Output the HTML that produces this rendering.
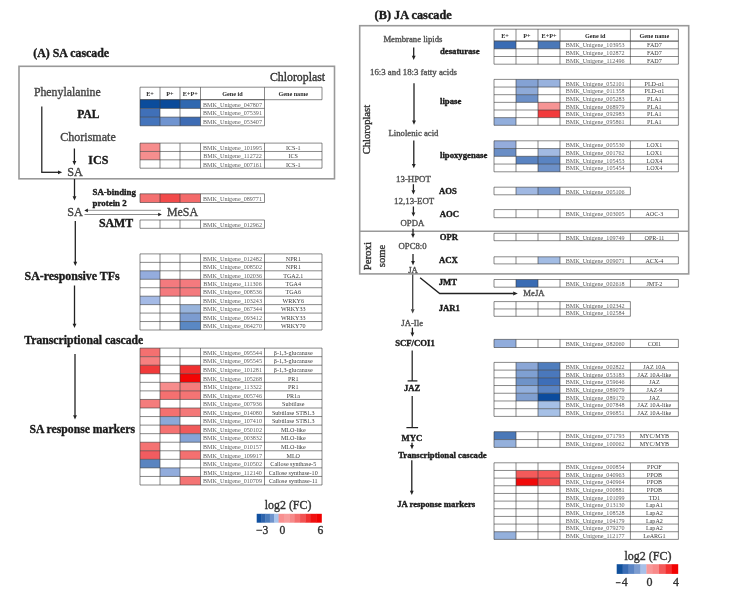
<!DOCTYPE html>
<html><head><meta charset="utf-8"><style>
html,body{margin:0;padding:0;background:#fff;}
body{width:741px;height:599px;overflow:hidden;}
svg{display:block;font-family:"Liberation Serif",serif;filter:blur(0.45px);}
</style></head><body>
<svg width="741" height="599" viewBox="0 0 741 599">
<rect x="0" y="0" width="741" height="599" fill="#fff"/>
<text x="33.20" y="57.40" font-size="11.9" font-weight="bold" fill="#1a1a1a" stroke="#1a1a1a" stroke-width="0.35" text-anchor="start">(A) SA cascade</text>
<rect x="19.00" y="66.30" width="315.50" height="112.50" fill="none" stroke="#999" stroke-width="1.6"/>
<text x="270.00" y="80.60" font-size="11.8" fill="#333" stroke="#333" stroke-width="0.35" text-anchor="start">Chloroplast</text>
<text x="150.00" y="96.02" font-size="6.2" font-weight="bold" fill="#2a2a2a" text-anchor="middle">E+</text>
<text x="170.00" y="96.02" font-size="6.2" font-weight="bold" fill="#2a2a2a" text-anchor="middle">P+</text>
<text x="190.25" y="96.02" font-size="6.2" font-weight="bold" fill="#2a2a2a" text-anchor="middle">E+P+</text>
<text x="232.50" y="96.02" font-size="6.2" font-weight="bold" fill="#2a2a2a" text-anchor="middle">Gene id</text>
<text x="293.25" y="96.02" font-size="6.2" font-weight="bold" fill="#2a2a2a" text-anchor="middle">Gene name</text>
<line x1="140.00" y1="87.20" x2="322.00" y2="87.20" stroke="#3a3a3a" stroke-width="0.6"/>
<line x1="140.00" y1="99.70" x2="322.00" y2="99.70" stroke="#3a3a3a" stroke-width="0.6"/>
<line x1="140.00" y1="87.20" x2="140.00" y2="99.70" stroke="#3a3a3a" stroke-width="0.6"/>
<line x1="160.00" y1="87.20" x2="160.00" y2="99.70" stroke="#3a3a3a" stroke-width="0.6"/>
<line x1="180.00" y1="87.20" x2="180.00" y2="99.70" stroke="#3a3a3a" stroke-width="0.6"/>
<line x1="200.50" y1="87.20" x2="200.50" y2="99.70" stroke="#3a3a3a" stroke-width="0.6"/>
<line x1="264.50" y1="87.20" x2="264.50" y2="99.70" stroke="#3a3a3a" stroke-width="0.6"/>
<line x1="322.00" y1="87.20" x2="322.00" y2="99.70" stroke="#3a3a3a" stroke-width="0.6"/>
<rect x="140.00" y="99.70" width="20.00" height="8.70" fill="#0a4c9c"/>
<rect x="160.00" y="99.70" width="20.00" height="8.70" fill="#0a4a9a"/>
<rect x="180.00" y="99.70" width="20.50" height="8.70" fill="#3068b0"/>
<text x="232.50" y="106.59" font-size="6.1" fill="#606060" text-anchor="middle">BMK_Unigene_047807</text>
<rect x="140.00" y="108.40" width="20.00" height="8.70" fill="#4070b8"/>
<text x="232.50" y="115.29" font-size="6.1" fill="#606060" text-anchor="middle">BMK_Unigene_075391</text>
<rect x="140.00" y="117.10" width="20.00" height="8.70" fill="#4474bc"/>
<rect x="160.00" y="117.10" width="20.00" height="8.70" fill="#7094d0"/>
<rect x="180.00" y="117.10" width="20.50" height="8.70" fill="#3e6cb4"/>
<text x="232.50" y="123.98" font-size="6.1" fill="#606060" text-anchor="middle">BMK_Unigene_053407</text>
<line x1="140.00" y1="99.70" x2="264.50" y2="99.70" stroke="#3a3a3a" stroke-width="0.6"/>
<line x1="140.00" y1="108.40" x2="264.50" y2="108.40" stroke="#3a3a3a" stroke-width="0.6"/>
<line x1="140.00" y1="117.10" x2="264.50" y2="117.10" stroke="#3a3a3a" stroke-width="0.6"/>
<line x1="140.00" y1="125.80" x2="264.50" y2="125.80" stroke="#3a3a3a" stroke-width="0.6"/>
<line x1="140.00" y1="99.70" x2="140.00" y2="125.80" stroke="#3a3a3a" stroke-width="0.6"/>
<line x1="160.00" y1="99.70" x2="160.00" y2="125.80" stroke="#3a3a3a" stroke-width="0.6"/>
<line x1="180.00" y1="99.70" x2="180.00" y2="125.80" stroke="#3a3a3a" stroke-width="0.6"/>
<line x1="200.50" y1="99.70" x2="200.50" y2="125.80" stroke="#3a3a3a" stroke-width="0.6"/>
<line x1="264.50" y1="99.70" x2="264.50" y2="125.80" stroke="#3a3a3a" stroke-width="0.6"/>
<rect x="140.00" y="143.10" width="20.00" height="8.37" fill="#f68c8c"/>
<text x="232.50" y="149.82" font-size="6.1" fill="#606060" text-anchor="middle">BMK_Unigene_101995</text>
<text x="293.25" y="149.82" font-size="6.1" fill="#3a3a3a" text-anchor="middle">ICS-1</text>
<rect x="140.00" y="151.47" width="20.00" height="8.37" fill="#f68e8e"/>
<text x="232.50" y="158.19" font-size="6.1" fill="#606060" text-anchor="middle">BMK_Unigene_112722</text>
<text x="293.25" y="158.19" font-size="6.1" fill="#3a3a3a" text-anchor="middle">ICS</text>
<text x="232.50" y="166.55" font-size="6.1" fill="#606060" text-anchor="middle">BMK_Unigene_007161</text>
<text x="293.25" y="166.55" font-size="6.1" fill="#3a3a3a" text-anchor="middle">ICS-1</text>
<line x1="140.00" y1="143.10" x2="322.00" y2="143.10" stroke="#3a3a3a" stroke-width="0.6"/>
<line x1="140.00" y1="151.47" x2="322.00" y2="151.47" stroke="#3a3a3a" stroke-width="0.6"/>
<line x1="140.00" y1="159.83" x2="322.00" y2="159.83" stroke="#3a3a3a" stroke-width="0.6"/>
<line x1="140.00" y1="168.20" x2="322.00" y2="168.20" stroke="#3a3a3a" stroke-width="0.6"/>
<line x1="140.00" y1="143.10" x2="140.00" y2="168.20" stroke="#3a3a3a" stroke-width="0.6"/>
<line x1="160.00" y1="143.10" x2="160.00" y2="168.20" stroke="#3a3a3a" stroke-width="0.6"/>
<line x1="180.00" y1="143.10" x2="180.00" y2="168.20" stroke="#3a3a3a" stroke-width="0.6"/>
<line x1="200.50" y1="143.10" x2="200.50" y2="168.20" stroke="#3a3a3a" stroke-width="0.6"/>
<line x1="264.50" y1="143.10" x2="264.50" y2="168.20" stroke="#3a3a3a" stroke-width="0.6"/>
<line x1="322.00" y1="143.10" x2="322.00" y2="168.20" stroke="#3a3a3a" stroke-width="0.6"/>
<rect x="140.00" y="193.80" width="20.00" height="8.70" fill="#f47070"/>
<rect x="160.00" y="193.80" width="20.00" height="8.70" fill="#f24a4a"/>
<rect x="180.00" y="193.80" width="20.50" height="8.70" fill="#f46a6a"/>
<text x="232.50" y="200.69" font-size="6.1" fill="#606060" text-anchor="middle">BMK_Unigene_089771</text>
<line x1="140.00" y1="193.80" x2="264.50" y2="193.80" stroke="#3a3a3a" stroke-width="0.6"/>
<line x1="140.00" y1="202.50" x2="264.50" y2="202.50" stroke="#3a3a3a" stroke-width="0.6"/>
<line x1="140.00" y1="193.80" x2="140.00" y2="202.50" stroke="#3a3a3a" stroke-width="0.6"/>
<line x1="160.00" y1="193.80" x2="160.00" y2="202.50" stroke="#3a3a3a" stroke-width="0.6"/>
<line x1="180.00" y1="193.80" x2="180.00" y2="202.50" stroke="#3a3a3a" stroke-width="0.6"/>
<line x1="200.50" y1="193.80" x2="200.50" y2="202.50" stroke="#3a3a3a" stroke-width="0.6"/>
<line x1="264.50" y1="193.80" x2="264.50" y2="202.50" stroke="#3a3a3a" stroke-width="0.6"/>
<text x="232.50" y="226.69" font-size="6.1" fill="#606060" text-anchor="middle">BMK_Unigene_012962</text>
<line x1="140.00" y1="220.00" x2="264.50" y2="220.00" stroke="#3a3a3a" stroke-width="0.6"/>
<line x1="140.00" y1="228.30" x2="264.50" y2="228.30" stroke="#3a3a3a" stroke-width="0.6"/>
<line x1="140.00" y1="220.00" x2="140.00" y2="228.30" stroke="#3a3a3a" stroke-width="0.6"/>
<line x1="160.00" y1="220.00" x2="160.00" y2="228.30" stroke="#3a3a3a" stroke-width="0.6"/>
<line x1="180.00" y1="220.00" x2="180.00" y2="228.30" stroke="#3a3a3a" stroke-width="0.6"/>
<line x1="200.50" y1="220.00" x2="200.50" y2="228.30" stroke="#3a3a3a" stroke-width="0.6"/>
<line x1="264.50" y1="220.00" x2="264.50" y2="228.30" stroke="#3a3a3a" stroke-width="0.6"/>
<text x="232.50" y="260.66" font-size="6.1" fill="#606060" text-anchor="middle">BMK_Unigene_012482</text>
<text x="293.25" y="260.66" font-size="6.1" fill="#3a3a3a" text-anchor="middle">NPR1</text>
<text x="232.50" y="269.12" font-size="6.1" fill="#606060" text-anchor="middle">BMK_Unigene_008502</text>
<text x="293.25" y="269.12" font-size="6.1" fill="#3a3a3a" text-anchor="middle">NPR1</text>
<rect x="140.00" y="270.81" width="20.00" height="8.46" fill="#94acde"/>
<text x="232.50" y="277.57" font-size="6.1" fill="#606060" text-anchor="middle">BMK_Unigene_102036</text>
<text x="293.25" y="277.57" font-size="6.1" fill="#3a3a3a" text-anchor="middle">TGA2.1</text>
<rect x="160.00" y="279.27" width="20.00" height="8.46" fill="#f47a7e"/>
<rect x="180.00" y="279.27" width="20.50" height="8.46" fill="#f47a7e"/>
<text x="232.50" y="286.03" font-size="6.1" fill="#606060" text-anchor="middle">BMK_Unigene_111306</text>
<text x="293.25" y="286.03" font-size="6.1" fill="#3a3a3a" text-anchor="middle">TGA4</text>
<rect x="160.00" y="287.72" width="20.00" height="8.46" fill="#f47a7e"/>
<rect x="180.00" y="287.72" width="20.50" height="8.46" fill="#f47a7e"/>
<text x="232.50" y="294.48" font-size="6.1" fill="#606060" text-anchor="middle">BMK_Unigene_008536</text>
<text x="293.25" y="294.48" font-size="6.1" fill="#3a3a3a" text-anchor="middle">TGA6</text>
<rect x="140.00" y="296.18" width="20.00" height="8.46" fill="#a4bae6"/>
<text x="232.50" y="302.94" font-size="6.1" fill="#606060" text-anchor="middle">BMK_Unigene_103243</text>
<text x="293.25" y="302.94" font-size="6.1" fill="#3a3a3a" text-anchor="middle">WRKY6</text>
<rect x="180.00" y="304.63" width="20.50" height="8.46" fill="#98b4dc"/>
<text x="232.50" y="311.40" font-size="6.1" fill="#606060" text-anchor="middle">BMK_Unigene_067344</text>
<text x="293.25" y="311.40" font-size="6.1" fill="#3a3a3a" text-anchor="middle">WRKY33</text>
<rect x="180.00" y="313.09" width="20.50" height="8.46" fill="#7c9cd0"/>
<text x="232.50" y="319.85" font-size="6.1" fill="#606060" text-anchor="middle">BMK_Unigene_093412</text>
<text x="293.25" y="319.85" font-size="6.1" fill="#3a3a3a" text-anchor="middle">WRKY33</text>
<rect x="180.00" y="321.54" width="20.50" height="8.46" fill="#5a88c4"/>
<text x="232.50" y="328.31" font-size="6.1" fill="#606060" text-anchor="middle">BMK_Unigene_064270</text>
<text x="293.25" y="328.31" font-size="6.1" fill="#3a3a3a" text-anchor="middle">WRKY70</text>
<line x1="140.00" y1="253.90" x2="322.00" y2="253.90" stroke="#3a3a3a" stroke-width="0.6"/>
<line x1="140.00" y1="262.36" x2="322.00" y2="262.36" stroke="#3a3a3a" stroke-width="0.6"/>
<line x1="140.00" y1="270.81" x2="322.00" y2="270.81" stroke="#3a3a3a" stroke-width="0.6"/>
<line x1="140.00" y1="279.27" x2="322.00" y2="279.27" stroke="#3a3a3a" stroke-width="0.6"/>
<line x1="140.00" y1="287.72" x2="322.00" y2="287.72" stroke="#3a3a3a" stroke-width="0.6"/>
<line x1="140.00" y1="296.18" x2="322.00" y2="296.18" stroke="#3a3a3a" stroke-width="0.6"/>
<line x1="140.00" y1="304.63" x2="322.00" y2="304.63" stroke="#3a3a3a" stroke-width="0.6"/>
<line x1="140.00" y1="313.09" x2="322.00" y2="313.09" stroke="#3a3a3a" stroke-width="0.6"/>
<line x1="140.00" y1="321.54" x2="322.00" y2="321.54" stroke="#3a3a3a" stroke-width="0.6"/>
<line x1="140.00" y1="330.00" x2="322.00" y2="330.00" stroke="#3a3a3a" stroke-width="0.6"/>
<line x1="140.00" y1="253.90" x2="140.00" y2="330.00" stroke="#3a3a3a" stroke-width="0.6"/>
<line x1="160.00" y1="253.90" x2="160.00" y2="330.00" stroke="#3a3a3a" stroke-width="0.6"/>
<line x1="180.00" y1="253.90" x2="180.00" y2="330.00" stroke="#3a3a3a" stroke-width="0.6"/>
<line x1="200.50" y1="253.90" x2="200.50" y2="330.00" stroke="#3a3a3a" stroke-width="0.6"/>
<line x1="264.50" y1="253.90" x2="264.50" y2="330.00" stroke="#3a3a3a" stroke-width="0.6"/>
<line x1="322.00" y1="253.90" x2="322.00" y2="330.00" stroke="#3a3a3a" stroke-width="0.6"/>
<rect x="140.00" y="348.10" width="20.00" height="8.56" fill="#f47070"/>
<text x="232.50" y="354.91" font-size="6.1" fill="#606060" text-anchor="middle">BMK_Unigene_095544</text>
<text x="293.25" y="354.91" font-size="6.1" fill="#3a3a3a" text-anchor="middle">β-1,3-glucanase</text>
<rect x="140.00" y="356.66" width="20.00" height="8.56" fill="#f68080"/>
<text x="232.50" y="363.47" font-size="6.1" fill="#606060" text-anchor="middle">BMK_Unigene_095545</text>
<text x="293.25" y="363.47" font-size="6.1" fill="#3a3a3a" text-anchor="middle">β-1,3-glucanase</text>
<rect x="140.00" y="365.21" width="20.00" height="8.56" fill="#f03a3a"/>
<rect x="180.00" y="365.21" width="20.50" height="8.56" fill="#f03030"/>
<text x="232.50" y="372.03" font-size="6.1" fill="#606060" text-anchor="middle">BMK_Unigene_101281</text>
<text x="293.25" y="372.03" font-size="6.1" fill="#3a3a3a" text-anchor="middle">β-1,3-glucanase</text>
<rect x="180.00" y="373.77" width="20.50" height="8.56" fill="#f40404"/>
<text x="232.50" y="380.58" font-size="6.1" fill="#606060" text-anchor="middle">BMK_Unigene_105268</text>
<text x="293.25" y="380.58" font-size="6.1" fill="#3a3a3a" text-anchor="middle">PR1</text>
<rect x="160.00" y="382.33" width="20.00" height="8.56" fill="#f68c8c"/>
<rect x="180.00" y="382.33" width="20.50" height="8.56" fill="#f47c7c"/>
<text x="232.50" y="389.14" font-size="6.1" fill="#606060" text-anchor="middle">BMK_Unigene_113322</text>
<text x="293.25" y="389.14" font-size="6.1" fill="#3a3a3a" text-anchor="middle">PR1</text>
<rect x="160.00" y="390.88" width="20.00" height="8.56" fill="#f47070"/>
<rect x="180.00" y="390.88" width="20.50" height="8.56" fill="#f47474"/>
<text x="232.50" y="397.69" font-size="6.1" fill="#606060" text-anchor="middle">BMK_Unigene_005746</text>
<text x="293.25" y="397.69" font-size="6.1" fill="#3a3a3a" text-anchor="middle">PR1a</text>
<rect x="140.00" y="399.44" width="20.00" height="8.56" fill="#f47c7c"/>
<text x="232.50" y="406.25" font-size="6.1" fill="#606060" text-anchor="middle">BMK_Unigene_007936</text>
<text x="293.25" y="406.25" font-size="6.1" fill="#3a3a3a" text-anchor="middle">Subtilase</text>
<rect x="160.00" y="407.99" width="20.00" height="8.56" fill="#f47070"/>
<rect x="180.00" y="407.99" width="20.50" height="8.56" fill="#f47878"/>
<text x="232.50" y="414.81" font-size="6.1" fill="#606060" text-anchor="middle">BMK_Unigene_014080</text>
<text x="293.25" y="414.81" font-size="6.1" fill="#3a3a3a" text-anchor="middle">Subtilase STB1.3</text>
<rect x="160.00" y="416.55" width="20.00" height="8.56" fill="#8ca8d8"/>
<text x="232.50" y="423.36" font-size="6.1" fill="#606060" text-anchor="middle">BMK_Unigene_107410</text>
<text x="293.25" y="423.36" font-size="6.1" fill="#3a3a3a" text-anchor="middle">Subtilase STB1.3</text>
<rect x="160.00" y="425.11" width="20.00" height="8.56" fill="#f47272"/>
<rect x="180.00" y="425.11" width="20.50" height="8.56" fill="#f05a5a"/>
<text x="232.50" y="431.92" font-size="6.1" fill="#606060" text-anchor="middle">BMK_Unigene_050102</text>
<text x="293.25" y="431.92" font-size="6.1" fill="#3a3a3a" text-anchor="middle">MLO-like</text>
<rect x="180.00" y="433.66" width="20.50" height="8.56" fill="#86a4d6"/>
<text x="232.50" y="440.48" font-size="6.1" fill="#606060" text-anchor="middle">BMK_Unigene_003832</text>
<text x="293.25" y="440.48" font-size="6.1" fill="#3a3a3a" text-anchor="middle">MLO-like</text>
<rect x="140.00" y="442.22" width="20.00" height="8.56" fill="#f47272"/>
<text x="232.50" y="449.03" font-size="6.1" fill="#606060" text-anchor="middle">BMK_Unigene_010157</text>
<text x="293.25" y="449.03" font-size="6.1" fill="#3a3a3a" text-anchor="middle">MLO-like</text>
<rect x="140.00" y="450.77" width="20.00" height="8.56" fill="#f25c60"/>
<rect x="180.00" y="450.77" width="20.50" height="8.56" fill="#f47070"/>
<text x="232.50" y="457.59" font-size="6.1" fill="#606060" text-anchor="middle">BMK_Unigene_109917</text>
<text x="293.25" y="457.59" font-size="6.1" fill="#3a3a3a" text-anchor="middle">MLO</text>
<rect x="140.00" y="459.33" width="20.00" height="8.56" fill="#5a84c0"/>
<text x="232.50" y="466.14" font-size="6.1" fill="#606060" text-anchor="middle">BMK_Unigene_010502</text>
<text x="293.25" y="466.14" font-size="6.1" fill="#3a3a3a" text-anchor="middle">Callose synthase-5</text>
<rect x="160.00" y="467.89" width="20.00" height="8.56" fill="#92acdc"/>
<text x="232.50" y="474.70" font-size="6.1" fill="#606060" text-anchor="middle">BMK_Unigene_112140</text>
<text x="293.25" y="474.70" font-size="6.1" fill="#3a3a3a" text-anchor="middle">Callose synthase-10</text>
<rect x="180.00" y="476.44" width="20.50" height="8.56" fill="#f47474"/>
<text x="232.50" y="483.26" font-size="6.1" fill="#606060" text-anchor="middle">BMK_Unigene_010709</text>
<text x="293.25" y="483.26" font-size="6.1" fill="#3a3a3a" text-anchor="middle">Callose synthase-11</text>
<line x1="140.00" y1="348.10" x2="322.00" y2="348.10" stroke="#3a3a3a" stroke-width="0.6"/>
<line x1="140.00" y1="356.66" x2="322.00" y2="356.66" stroke="#3a3a3a" stroke-width="0.6"/>
<line x1="140.00" y1="365.21" x2="322.00" y2="365.21" stroke="#3a3a3a" stroke-width="0.6"/>
<line x1="140.00" y1="373.77" x2="322.00" y2="373.77" stroke="#3a3a3a" stroke-width="0.6"/>
<line x1="140.00" y1="382.33" x2="322.00" y2="382.33" stroke="#3a3a3a" stroke-width="0.6"/>
<line x1="140.00" y1="390.88" x2="322.00" y2="390.88" stroke="#3a3a3a" stroke-width="0.6"/>
<line x1="140.00" y1="399.44" x2="322.00" y2="399.44" stroke="#3a3a3a" stroke-width="0.6"/>
<line x1="140.00" y1="407.99" x2="322.00" y2="407.99" stroke="#3a3a3a" stroke-width="0.6"/>
<line x1="140.00" y1="416.55" x2="322.00" y2="416.55" stroke="#3a3a3a" stroke-width="0.6"/>
<line x1="140.00" y1="425.11" x2="322.00" y2="425.11" stroke="#3a3a3a" stroke-width="0.6"/>
<line x1="140.00" y1="433.66" x2="322.00" y2="433.66" stroke="#3a3a3a" stroke-width="0.6"/>
<line x1="140.00" y1="442.22" x2="322.00" y2="442.22" stroke="#3a3a3a" stroke-width="0.6"/>
<line x1="140.00" y1="450.77" x2="322.00" y2="450.77" stroke="#3a3a3a" stroke-width="0.6"/>
<line x1="140.00" y1="459.33" x2="322.00" y2="459.33" stroke="#3a3a3a" stroke-width="0.6"/>
<line x1="140.00" y1="467.89" x2="322.00" y2="467.89" stroke="#3a3a3a" stroke-width="0.6"/>
<line x1="140.00" y1="476.44" x2="322.00" y2="476.44" stroke="#3a3a3a" stroke-width="0.6"/>
<line x1="140.00" y1="485.00" x2="322.00" y2="485.00" stroke="#3a3a3a" stroke-width="0.6"/>
<line x1="140.00" y1="348.10" x2="140.00" y2="485.00" stroke="#3a3a3a" stroke-width="0.6"/>
<line x1="160.00" y1="348.10" x2="160.00" y2="485.00" stroke="#3a3a3a" stroke-width="0.6"/>
<line x1="180.00" y1="348.10" x2="180.00" y2="485.00" stroke="#3a3a3a" stroke-width="0.6"/>
<line x1="200.50" y1="348.10" x2="200.50" y2="485.00" stroke="#3a3a3a" stroke-width="0.6"/>
<line x1="264.50" y1="348.10" x2="264.50" y2="485.00" stroke="#3a3a3a" stroke-width="0.6"/>
<line x1="322.00" y1="348.10" x2="322.00" y2="485.00" stroke="#3a3a3a" stroke-width="0.6"/>
<text x="33.90" y="95.90" font-size="11.8" fill="#454545" stroke="#454545" stroke-width="0.35" text-anchor="start">Phenylalanine</text>
<text x="77.30" y="117.50" font-size="11.5" font-weight="bold" fill="#1a1a1a" stroke="#1a1a1a" stroke-width="0.35" text-anchor="start">PAL</text>
<text x="60.20" y="140.60" font-size="12.05" fill="#454545" stroke="#454545" stroke-width="0.35" text-anchor="start">Chorismate</text>
<text x="88.30" y="163.90" font-size="12" font-weight="bold" fill="#1a1a1a" stroke="#1a1a1a" stroke-width="0.35" text-anchor="start">ICS</text>
<text x="67.30" y="175.90" font-size="12.2" fill="#454545" stroke="#454545" stroke-width="0.35" text-anchor="start">SA</text>
<line x1="41.80" y1="106.50" x2="41.80" y2="172.30" stroke="#222" stroke-width="1.25"/>
<line x1="41.20" y1="172.30" x2="58.50" y2="172.30" stroke="#222" stroke-width="1.3"/>
<path d="M58.00,170.40 L58.00,174.20 L62.20,172.30 Z" fill="#222"/>
<line x1="74.40" y1="148.50" x2="74.40" y2="161.50" stroke="#222" stroke-width="1.3"/>
<path d="M72.50,161.00 L76.30,161.00 L74.40,165.20 Z" fill="#222"/>
<line x1="74.50" y1="179.00" x2="74.50" y2="196.80" stroke="#222" stroke-width="1.3"/>
<path d="M72.60,196.30 L76.40,196.30 L74.50,200.50 Z" fill="#222"/>
<text x="92.50" y="195.40" font-size="8.9" font-weight="bold" fill="#1a1a1a" stroke="#1a1a1a" stroke-width="0.35" text-anchor="start">SA-binding</text>
<text x="92.60" y="206.00" font-size="8.9" font-weight="bold" fill="#1a1a1a" stroke="#1a1a1a" stroke-width="0.35" text-anchor="start">protein 2</text>
<text x="67.30" y="216.20" font-size="12.2" fill="#454545" stroke="#454545" stroke-width="0.35" text-anchor="start">SA</text>
<line x1="161.00" y1="210.40" x2="87.40" y2="210.40" stroke="#aaa" stroke-width="1.1"/>
<path d="M87.90,208.60 L87.90,212.20 L84.30,210.40 Z" fill="#222"/>
<line x1="84.50" y1="214.50" x2="158.70" y2="214.50" stroke="#8a8a8a" stroke-width="1.1"/>
<path d="M158.20,212.70 L158.20,216.30 L161.80,214.50 Z" fill="#222"/>
<text x="167.00" y="216.30" font-size="11.9" fill="#454545" stroke="#454545" stroke-width="0.35" text-anchor="start">MeSA</text>
<text x="98.90" y="227.30" font-size="11.9" font-weight="bold" fill="#1a1a1a" stroke="#1a1a1a" stroke-width="0.35" text-anchor="start">SAMT</text>
<line x1="75.30" y1="221.00" x2="75.30" y2="262.30" stroke="#222" stroke-width="1.3"/>
<path d="M73.40,261.80 L77.20,261.80 L75.30,266.00 Z" fill="#222"/>
<text x="24.60" y="279.70" font-size="11.9" font-weight="bold" fill="#1a1a1a" stroke="#1a1a1a" stroke-width="0.35" text-anchor="start">SA-responsive TFs</text>
<line x1="74.50" y1="285.50" x2="74.50" y2="324.30" stroke="#222" stroke-width="1.3"/>
<path d="M72.60,323.80 L76.40,323.80 L74.50,328.00 Z" fill="#222"/>
<text x="24.30" y="343.80" font-size="11.7" font-weight="bold" fill="#1a1a1a" stroke="#1a1a1a" stroke-width="0.35" text-anchor="start">Transcriptional cascade</text>
<line x1="75.00" y1="354.00" x2="75.00" y2="415.80" stroke="#222" stroke-width="1.3"/>
<path d="M73.10,415.30 L76.90,415.30 L75.00,419.50 Z" fill="#222"/>
<text x="29.40" y="432.90" font-size="11.7" font-weight="bold" fill="#1a1a1a" stroke="#1a1a1a" stroke-width="0.35" text-anchor="start">SA response markers</text>
<text x="264.80" y="509.30" font-size="11.9" fill="#333" stroke="#333" stroke-width="0.35" text-anchor="start">log2 (FC)</text>
<rect x="256.70" y="513.80" width="4.68" height="8.90" fill="#1050a0"/>
<rect x="261.08" y="513.80" width="4.68" height="8.90" fill="#2e64ac"/>
<rect x="265.46" y="513.80" width="4.68" height="8.90" fill="#4a7cbc"/>
<rect x="269.84" y="513.80" width="4.68" height="8.90" fill="#7094cc"/>
<rect x="274.22" y="513.80" width="4.68" height="8.90" fill="#a8c4ec"/>
<rect x="278.60" y="513.80" width="5.66" height="8.90" fill="#f89090"/>
<rect x="283.96" y="513.80" width="5.66" height="8.90" fill="#f89c9c"/>
<rect x="289.33" y="513.80" width="5.66" height="8.90" fill="#f68a8a"/>
<rect x="294.69" y="513.80" width="5.66" height="8.90" fill="#f47070"/>
<rect x="300.05" y="513.80" width="5.66" height="8.90" fill="#f25252"/>
<rect x="305.41" y="513.80" width="5.66" height="8.90" fill="#f03030"/>
<rect x="310.77" y="513.80" width="5.66" height="8.90" fill="#f01010"/>
<rect x="316.14" y="513.80" width="5.66" height="8.90" fill="#f00000"/>
<text x="256.00" y="533.60" font-size="11.6" fill="#333" stroke="#333" stroke-width="0.35" text-anchor="start">−3</text>
<text x="279.40" y="533.60" font-size="11.6" fill="#333" stroke="#333" stroke-width="0.35" text-anchor="start">0</text>
<text x="317.40" y="533.60" font-size="11.6" fill="#333" stroke="#333" stroke-width="0.35" text-anchor="start">6</text>
<text x="374.60" y="18.70" font-size="12.3" font-weight="bold" fill="#1a1a1a" stroke="#1a1a1a" stroke-width="0.35" text-anchor="start">(B) JA cascade</text>
<rect x="359.70" y="25.70" width="329.00" height="248.20" fill="none" stroke="#999" stroke-width="1.6"/>
<line x1="359.70" y1="231.20" x2="688.70" y2="231.20" stroke="#999" stroke-width="1.6"/>
<text x="505.00" y="37.72" font-size="6.2" font-weight="bold" fill="#2a2a2a" text-anchor="middle">E+</text>
<text x="527.00" y="37.72" font-size="6.2" font-weight="bold" fill="#2a2a2a" text-anchor="middle">P+</text>
<text x="549.00" y="37.72" font-size="6.2" font-weight="bold" fill="#2a2a2a" text-anchor="middle">E+P+</text>
<text x="595.20" y="37.72" font-size="6.2" font-weight="bold" fill="#2a2a2a" text-anchor="middle">Gene id</text>
<text x="654.40" y="37.72" font-size="6.2" font-weight="bold" fill="#2a2a2a" text-anchor="middle">Gene name</text>
<line x1="494.00" y1="29.20" x2="678.40" y2="29.20" stroke="#3a3a3a" stroke-width="0.6"/>
<line x1="494.00" y1="41.10" x2="678.40" y2="41.10" stroke="#3a3a3a" stroke-width="0.6"/>
<line x1="494.00" y1="29.20" x2="494.00" y2="41.10" stroke="#3a3a3a" stroke-width="0.6"/>
<line x1="516.00" y1="29.20" x2="516.00" y2="41.10" stroke="#3a3a3a" stroke-width="0.6"/>
<line x1="538.00" y1="29.20" x2="538.00" y2="41.10" stroke="#3a3a3a" stroke-width="0.6"/>
<line x1="560.00" y1="29.20" x2="560.00" y2="41.10" stroke="#3a3a3a" stroke-width="0.6"/>
<line x1="630.40" y1="29.20" x2="630.40" y2="41.10" stroke="#3a3a3a" stroke-width="0.6"/>
<line x1="678.40" y1="29.20" x2="678.40" y2="41.10" stroke="#3a3a3a" stroke-width="0.6"/>
<rect x="494.00" y="41.10" width="22.00" height="7.70" fill="#3a6cb4"/>
<rect x="538.00" y="41.10" width="22.00" height="7.70" fill="#4a78b8"/>
<text x="595.20" y="47.48" font-size="6.1" fill="#606060" text-anchor="middle">BMK_Unigene_103953</text>
<text x="654.40" y="47.48" font-size="6.1" fill="#3a3a3a" text-anchor="middle">FAD7</text>
<text x="595.20" y="55.19" font-size="6.1" fill="#606060" text-anchor="middle">BMK_Unigene_102872</text>
<text x="654.40" y="55.19" font-size="6.1" fill="#3a3a3a" text-anchor="middle">FAD7</text>
<text x="595.20" y="62.88" font-size="6.1" fill="#606060" text-anchor="middle">BMK_Unigene_112496</text>
<text x="654.40" y="62.88" font-size="6.1" fill="#3a3a3a" text-anchor="middle">FAD7</text>
<line x1="494.00" y1="41.10" x2="678.40" y2="41.10" stroke="#3a3a3a" stroke-width="0.6"/>
<line x1="494.00" y1="48.80" x2="678.40" y2="48.80" stroke="#3a3a3a" stroke-width="0.6"/>
<line x1="494.00" y1="56.50" x2="678.40" y2="56.50" stroke="#3a3a3a" stroke-width="0.6"/>
<line x1="494.00" y1="64.20" x2="678.40" y2="64.20" stroke="#3a3a3a" stroke-width="0.6"/>
<line x1="494.00" y1="41.10" x2="494.00" y2="64.20" stroke="#3a3a3a" stroke-width="0.6"/>
<line x1="516.00" y1="41.10" x2="516.00" y2="64.20" stroke="#3a3a3a" stroke-width="0.6"/>
<line x1="538.00" y1="41.10" x2="538.00" y2="64.20" stroke="#3a3a3a" stroke-width="0.6"/>
<line x1="560.00" y1="41.10" x2="560.00" y2="64.20" stroke="#3a3a3a" stroke-width="0.6"/>
<line x1="630.40" y1="41.10" x2="630.40" y2="64.20" stroke="#3a3a3a" stroke-width="0.6"/>
<line x1="678.40" y1="41.10" x2="678.40" y2="64.20" stroke="#3a3a3a" stroke-width="0.6"/>
<rect x="516.00" y="79.40" width="22.00" height="7.65" fill="#84a2d4"/>
<rect x="538.00" y="79.40" width="22.00" height="7.65" fill="#98b2de"/>
<text x="595.20" y="85.76" font-size="6.1" fill="#606060" text-anchor="middle">BMK_Unigene_052101</text>
<text x="654.40" y="85.76" font-size="6.1" fill="#3a3a3a" text-anchor="middle">PLD-α1</text>
<rect x="516.00" y="87.05" width="22.00" height="7.65" fill="#8eaad8"/>
<text x="595.20" y="93.41" font-size="6.1" fill="#606060" text-anchor="middle">BMK_Unigene_011358</text>
<text x="654.40" y="93.41" font-size="6.1" fill="#3a3a3a" text-anchor="middle">PLD-α1</text>
<rect x="516.00" y="94.70" width="22.00" height="7.65" fill="#6c90c8"/>
<text x="595.20" y="101.06" font-size="6.1" fill="#606060" text-anchor="middle">BMK_Unigene_005283</text>
<text x="654.40" y="101.06" font-size="6.1" fill="#3a3a3a" text-anchor="middle">PLA1</text>
<rect x="538.00" y="102.35" width="22.00" height="7.65" fill="#f69494"/>
<text x="595.20" y="108.71" font-size="6.1" fill="#606060" text-anchor="middle">BMK_Unigene_068979</text>
<text x="654.40" y="108.71" font-size="6.1" fill="#3a3a3a" text-anchor="middle">PLA1</text>
<rect x="538.00" y="110.00" width="22.00" height="7.65" fill="#f23a3c"/>
<text x="595.20" y="116.36" font-size="6.1" fill="#606060" text-anchor="middle">BMK_Unigene_092983</text>
<text x="654.40" y="116.36" font-size="6.1" fill="#3a3a3a" text-anchor="middle">PLA1</text>
<rect x="494.00" y="117.65" width="22.00" height="7.65" fill="#92aedc"/>
<text x="595.20" y="124.01" font-size="6.1" fill="#606060" text-anchor="middle">BMK_Unigene_095861</text>
<text x="654.40" y="124.01" font-size="6.1" fill="#3a3a3a" text-anchor="middle">PLA1</text>
<line x1="494.00" y1="79.40" x2="678.40" y2="79.40" stroke="#3a3a3a" stroke-width="0.6"/>
<line x1="494.00" y1="87.05" x2="678.40" y2="87.05" stroke="#3a3a3a" stroke-width="0.6"/>
<line x1="494.00" y1="94.70" x2="678.40" y2="94.70" stroke="#3a3a3a" stroke-width="0.6"/>
<line x1="494.00" y1="102.35" x2="678.40" y2="102.35" stroke="#3a3a3a" stroke-width="0.6"/>
<line x1="494.00" y1="110.00" x2="678.40" y2="110.00" stroke="#3a3a3a" stroke-width="0.6"/>
<line x1="494.00" y1="117.65" x2="678.40" y2="117.65" stroke="#3a3a3a" stroke-width="0.6"/>
<line x1="494.00" y1="125.30" x2="678.40" y2="125.30" stroke="#3a3a3a" stroke-width="0.6"/>
<line x1="494.00" y1="79.40" x2="494.00" y2="125.30" stroke="#3a3a3a" stroke-width="0.6"/>
<line x1="516.00" y1="79.40" x2="516.00" y2="125.30" stroke="#3a3a3a" stroke-width="0.6"/>
<line x1="538.00" y1="79.40" x2="538.00" y2="125.30" stroke="#3a3a3a" stroke-width="0.6"/>
<line x1="560.00" y1="79.40" x2="560.00" y2="125.30" stroke="#3a3a3a" stroke-width="0.6"/>
<line x1="630.40" y1="79.40" x2="630.40" y2="125.30" stroke="#3a3a3a" stroke-width="0.6"/>
<line x1="678.40" y1="79.40" x2="678.40" y2="125.30" stroke="#3a3a3a" stroke-width="0.6"/>
<rect x="494.00" y="140.80" width="22.00" height="7.75" fill="#94acdc"/>
<text x="595.20" y="147.21" font-size="6.1" fill="#606060" text-anchor="middle">BMK_Unigene_005530</text>
<text x="654.40" y="147.21" font-size="6.1" fill="#3a3a3a" text-anchor="middle">LOX1</text>
<rect x="494.00" y="148.55" width="22.00" height="7.75" fill="#6a8ec6"/>
<rect x="538.00" y="148.55" width="22.00" height="7.75" fill="#a2bae2"/>
<text x="595.20" y="154.96" font-size="6.1" fill="#606060" text-anchor="middle">BMK_Unigene_001762</text>
<text x="654.40" y="154.96" font-size="6.1" fill="#3a3a3a" text-anchor="middle">LOX1</text>
<rect x="516.00" y="156.30" width="22.00" height="7.75" fill="#5a84c2"/>
<rect x="538.00" y="156.30" width="22.00" height="7.75" fill="#5a84c2"/>
<text x="595.20" y="162.71" font-size="6.1" fill="#606060" text-anchor="middle">BMK_Unigene_105453</text>
<text x="654.40" y="162.71" font-size="6.1" fill="#3a3a3a" text-anchor="middle">LOX4</text>
<rect x="538.00" y="164.05" width="22.00" height="7.75" fill="#6c90c8"/>
<text x="595.20" y="170.46" font-size="6.1" fill="#606060" text-anchor="middle">BMK_Unigene_105454</text>
<text x="654.40" y="170.46" font-size="6.1" fill="#3a3a3a" text-anchor="middle">LOX4</text>
<line x1="494.00" y1="140.80" x2="678.40" y2="140.80" stroke="#3a3a3a" stroke-width="0.6"/>
<line x1="494.00" y1="148.55" x2="678.40" y2="148.55" stroke="#3a3a3a" stroke-width="0.6"/>
<line x1="494.00" y1="156.30" x2="678.40" y2="156.30" stroke="#3a3a3a" stroke-width="0.6"/>
<line x1="494.00" y1="164.05" x2="678.40" y2="164.05" stroke="#3a3a3a" stroke-width="0.6"/>
<line x1="494.00" y1="171.80" x2="678.40" y2="171.80" stroke="#3a3a3a" stroke-width="0.6"/>
<line x1="494.00" y1="140.80" x2="494.00" y2="171.80" stroke="#3a3a3a" stroke-width="0.6"/>
<line x1="516.00" y1="140.80" x2="516.00" y2="171.80" stroke="#3a3a3a" stroke-width="0.6"/>
<line x1="538.00" y1="140.80" x2="538.00" y2="171.80" stroke="#3a3a3a" stroke-width="0.6"/>
<line x1="560.00" y1="140.80" x2="560.00" y2="171.80" stroke="#3a3a3a" stroke-width="0.6"/>
<line x1="630.40" y1="140.80" x2="630.40" y2="171.80" stroke="#3a3a3a" stroke-width="0.6"/>
<line x1="678.40" y1="140.80" x2="678.40" y2="171.80" stroke="#3a3a3a" stroke-width="0.6"/>
<rect x="516.00" y="187.20" width="22.00" height="7.60" fill="#a0b8e2"/>
<rect x="538.00" y="187.20" width="22.00" height="7.60" fill="#7c9cd0"/>
<text x="595.20" y="193.53" font-size="6.1" fill="#606060" text-anchor="middle">BMK_Unigene_005106</text>
<line x1="494.00" y1="187.20" x2="630.40" y2="187.20" stroke="#3a3a3a" stroke-width="0.6"/>
<line x1="494.00" y1="194.80" x2="630.40" y2="194.80" stroke="#3a3a3a" stroke-width="0.6"/>
<line x1="494.00" y1="187.20" x2="494.00" y2="194.80" stroke="#3a3a3a" stroke-width="0.6"/>
<line x1="516.00" y1="187.20" x2="516.00" y2="194.80" stroke="#3a3a3a" stroke-width="0.6"/>
<line x1="538.00" y1="187.20" x2="538.00" y2="194.80" stroke="#3a3a3a" stroke-width="0.6"/>
<line x1="560.00" y1="187.20" x2="560.00" y2="194.80" stroke="#3a3a3a" stroke-width="0.6"/>
<line x1="630.40" y1="187.20" x2="630.40" y2="194.80" stroke="#3a3a3a" stroke-width="0.6"/>
<text x="595.20" y="216.18" font-size="6.1" fill="#606060" text-anchor="middle">BMK_Unigene_003005</text>
<text x="654.40" y="216.18" font-size="6.1" fill="#3a3a3a" text-anchor="middle">AOC-3</text>
<line x1="494.00" y1="209.60" x2="678.40" y2="209.60" stroke="#3a3a3a" stroke-width="0.6"/>
<line x1="494.00" y1="217.70" x2="678.40" y2="217.70" stroke="#3a3a3a" stroke-width="0.6"/>
<line x1="494.00" y1="209.60" x2="494.00" y2="217.70" stroke="#3a3a3a" stroke-width="0.6"/>
<line x1="516.00" y1="209.60" x2="516.00" y2="217.70" stroke="#3a3a3a" stroke-width="0.6"/>
<line x1="538.00" y1="209.60" x2="538.00" y2="217.70" stroke="#3a3a3a" stroke-width="0.6"/>
<line x1="560.00" y1="209.60" x2="560.00" y2="217.70" stroke="#3a3a3a" stroke-width="0.6"/>
<line x1="630.40" y1="209.60" x2="630.40" y2="217.70" stroke="#3a3a3a" stroke-width="0.6"/>
<line x1="678.40" y1="209.60" x2="678.40" y2="217.70" stroke="#3a3a3a" stroke-width="0.6"/>
<text x="595.20" y="239.53" font-size="6.1" fill="#606060" text-anchor="middle">BMK_Unigene_109749</text>
<text x="654.40" y="239.53" font-size="6.1" fill="#3a3a3a" text-anchor="middle">OPR-11</text>
<line x1="494.00" y1="233.30" x2="678.40" y2="233.30" stroke="#3a3a3a" stroke-width="0.6"/>
<line x1="494.00" y1="240.70" x2="678.40" y2="240.70" stroke="#3a3a3a" stroke-width="0.6"/>
<line x1="494.00" y1="233.30" x2="494.00" y2="240.70" stroke="#3a3a3a" stroke-width="0.6"/>
<line x1="516.00" y1="233.30" x2="516.00" y2="240.70" stroke="#3a3a3a" stroke-width="0.6"/>
<line x1="538.00" y1="233.30" x2="538.00" y2="240.70" stroke="#3a3a3a" stroke-width="0.6"/>
<line x1="560.00" y1="233.30" x2="560.00" y2="240.70" stroke="#3a3a3a" stroke-width="0.6"/>
<line x1="630.40" y1="233.30" x2="630.40" y2="240.70" stroke="#3a3a3a" stroke-width="0.6"/>
<line x1="678.40" y1="233.30" x2="678.40" y2="240.70" stroke="#3a3a3a" stroke-width="0.6"/>
<rect x="538.00" y="256.80" width="22.00" height="7.10" fill="#a2bce4"/>
<text x="595.20" y="262.88" font-size="6.1" fill="#606060" text-anchor="middle">BMK_Unigene_009071</text>
<text x="654.40" y="262.88" font-size="6.1" fill="#3a3a3a" text-anchor="middle">ACX-4</text>
<line x1="494.00" y1="256.80" x2="678.40" y2="256.80" stroke="#3a3a3a" stroke-width="0.6"/>
<line x1="494.00" y1="263.90" x2="678.40" y2="263.90" stroke="#3a3a3a" stroke-width="0.6"/>
<line x1="494.00" y1="256.80" x2="494.00" y2="263.90" stroke="#3a3a3a" stroke-width="0.6"/>
<line x1="516.00" y1="256.80" x2="516.00" y2="263.90" stroke="#3a3a3a" stroke-width="0.6"/>
<line x1="538.00" y1="256.80" x2="538.00" y2="263.90" stroke="#3a3a3a" stroke-width="0.6"/>
<line x1="560.00" y1="256.80" x2="560.00" y2="263.90" stroke="#3a3a3a" stroke-width="0.6"/>
<line x1="630.40" y1="256.80" x2="630.40" y2="263.90" stroke="#3a3a3a" stroke-width="0.6"/>
<line x1="678.40" y1="256.80" x2="678.40" y2="263.90" stroke="#3a3a3a" stroke-width="0.6"/>
<rect x="516.00" y="279.50" width="22.00" height="7.70" fill="#3a6cb4"/>
<text x="595.20" y="285.88" font-size="6.1" fill="#606060" text-anchor="middle">BMK_Unigene_002618</text>
<text x="654.40" y="285.88" font-size="6.1" fill="#3a3a3a" text-anchor="middle">JMT-2</text>
<line x1="494.00" y1="279.50" x2="678.40" y2="279.50" stroke="#3a3a3a" stroke-width="0.6"/>
<line x1="494.00" y1="287.20" x2="678.40" y2="287.20" stroke="#3a3a3a" stroke-width="0.6"/>
<line x1="494.00" y1="279.50" x2="494.00" y2="287.20" stroke="#3a3a3a" stroke-width="0.6"/>
<line x1="516.00" y1="279.50" x2="516.00" y2="287.20" stroke="#3a3a3a" stroke-width="0.6"/>
<line x1="538.00" y1="279.50" x2="538.00" y2="287.20" stroke="#3a3a3a" stroke-width="0.6"/>
<line x1="560.00" y1="279.50" x2="560.00" y2="287.20" stroke="#3a3a3a" stroke-width="0.6"/>
<line x1="630.40" y1="279.50" x2="630.40" y2="287.20" stroke="#3a3a3a" stroke-width="0.6"/>
<line x1="678.40" y1="279.50" x2="678.40" y2="287.20" stroke="#3a3a3a" stroke-width="0.6"/>
<text x="595.20" y="307.81" font-size="6.1" fill="#606060" text-anchor="middle">BMK_Unigene_102342</text>
<text x="595.20" y="315.16" font-size="6.1" fill="#606060" text-anchor="middle">BMK_Unigene_102584</text>
<line x1="494.00" y1="301.60" x2="630.40" y2="301.60" stroke="#3a3a3a" stroke-width="0.6"/>
<line x1="494.00" y1="308.95" x2="630.40" y2="308.95" stroke="#3a3a3a" stroke-width="0.6"/>
<line x1="494.00" y1="316.30" x2="630.40" y2="316.30" stroke="#3a3a3a" stroke-width="0.6"/>
<line x1="494.00" y1="301.60" x2="494.00" y2="316.30" stroke="#3a3a3a" stroke-width="0.6"/>
<line x1="516.00" y1="301.60" x2="516.00" y2="316.30" stroke="#3a3a3a" stroke-width="0.6"/>
<line x1="538.00" y1="301.60" x2="538.00" y2="316.30" stroke="#3a3a3a" stroke-width="0.6"/>
<line x1="560.00" y1="301.60" x2="560.00" y2="316.30" stroke="#3a3a3a" stroke-width="0.6"/>
<line x1="630.40" y1="301.60" x2="630.40" y2="316.30" stroke="#3a3a3a" stroke-width="0.6"/>
<rect x="494.00" y="339.40" width="22.00" height="8.10" fill="#90acdc"/>
<text x="595.20" y="345.98" font-size="6.1" fill="#606060" text-anchor="middle">BMK_Unigene_082060</text>
<text x="654.40" y="345.98" font-size="6.1" fill="#3a3a3a" text-anchor="middle">COI1</text>
<line x1="494.00" y1="339.40" x2="678.40" y2="339.40" stroke="#3a3a3a" stroke-width="0.6"/>
<line x1="494.00" y1="347.50" x2="678.40" y2="347.50" stroke="#3a3a3a" stroke-width="0.6"/>
<line x1="494.00" y1="339.40" x2="494.00" y2="347.50" stroke="#3a3a3a" stroke-width="0.6"/>
<line x1="516.00" y1="339.40" x2="516.00" y2="347.50" stroke="#3a3a3a" stroke-width="0.6"/>
<line x1="538.00" y1="339.40" x2="538.00" y2="347.50" stroke="#3a3a3a" stroke-width="0.6"/>
<line x1="560.00" y1="339.40" x2="560.00" y2="347.50" stroke="#3a3a3a" stroke-width="0.6"/>
<line x1="630.40" y1="339.40" x2="630.40" y2="347.50" stroke="#3a3a3a" stroke-width="0.6"/>
<line x1="678.40" y1="339.40" x2="678.40" y2="347.50" stroke="#3a3a3a" stroke-width="0.6"/>
<rect x="516.00" y="362.40" width="22.00" height="7.71" fill="#8aa6d6"/>
<rect x="538.00" y="362.40" width="22.00" height="7.71" fill="#4f7dbd"/>
<text x="595.20" y="368.79" font-size="6.1" fill="#606060" text-anchor="middle">BMK_Unigene_002822</text>
<text x="654.40" y="368.79" font-size="6.1" fill="#3a3a3a" text-anchor="middle">JAZ 10A</text>
<rect x="516.00" y="370.11" width="22.00" height="7.71" fill="#7fa0d2"/>
<rect x="538.00" y="370.11" width="22.00" height="7.71" fill="#4a78bc"/>
<text x="595.20" y="376.51" font-size="6.1" fill="#606060" text-anchor="middle">BMK_Unigene_053183</text>
<text x="654.40" y="376.51" font-size="6.1" fill="#3a3a3a" text-anchor="middle">JAZ 10A-like</text>
<rect x="516.00" y="377.83" width="22.00" height="7.71" fill="#6f93c8"/>
<rect x="538.00" y="377.83" width="22.00" height="7.71" fill="#3e6eb8"/>
<text x="595.20" y="384.22" font-size="6.1" fill="#606060" text-anchor="middle">BMK_Unigene_059646</text>
<text x="654.40" y="384.22" font-size="6.1" fill="#3a3a3a" text-anchor="middle">JAZ</text>
<rect x="516.00" y="385.54" width="22.00" height="7.71" fill="#93b0dd"/>
<rect x="538.00" y="385.54" width="22.00" height="7.71" fill="#5a84c4"/>
<text x="595.20" y="391.93" font-size="6.1" fill="#606060" text-anchor="middle">BMK_Unigene_089079</text>
<text x="654.40" y="391.93" font-size="6.1" fill="#3a3a3a" text-anchor="middle">JAZ-9</text>
<rect x="516.00" y="393.26" width="22.00" height="7.71" fill="#809fd0"/>
<rect x="538.00" y="393.26" width="22.00" height="7.71" fill="#0c4c9e"/>
<text x="595.20" y="399.65" font-size="6.1" fill="#606060" text-anchor="middle">BMK_Unigene_089170</text>
<text x="654.40" y="399.65" font-size="6.1" fill="#3a3a3a" text-anchor="middle">JAZ</text>
<rect x="538.00" y="400.97" width="22.00" height="7.71" fill="#a6c0e6"/>
<text x="595.20" y="407.36" font-size="6.1" fill="#606060" text-anchor="middle">BMK_Unigene_007848</text>
<text x="654.40" y="407.36" font-size="6.1" fill="#3a3a3a" text-anchor="middle">JAZ 10A-like</text>
<rect x="538.00" y="408.69" width="22.00" height="7.71" fill="#a6c0e6"/>
<text x="595.20" y="415.08" font-size="6.1" fill="#606060" text-anchor="middle">BMK_Unigene_096851</text>
<text x="654.40" y="415.08" font-size="6.1" fill="#3a3a3a" text-anchor="middle">JAZ 10A-like</text>
<line x1="494.00" y1="362.40" x2="678.40" y2="362.40" stroke="#3a3a3a" stroke-width="0.6"/>
<line x1="494.00" y1="370.11" x2="678.40" y2="370.11" stroke="#3a3a3a" stroke-width="0.6"/>
<line x1="494.00" y1="377.83" x2="678.40" y2="377.83" stroke="#3a3a3a" stroke-width="0.6"/>
<line x1="494.00" y1="385.54" x2="678.40" y2="385.54" stroke="#3a3a3a" stroke-width="0.6"/>
<line x1="494.00" y1="393.26" x2="678.40" y2="393.26" stroke="#3a3a3a" stroke-width="0.6"/>
<line x1="494.00" y1="400.97" x2="678.40" y2="400.97" stroke="#3a3a3a" stroke-width="0.6"/>
<line x1="494.00" y1="408.69" x2="678.40" y2="408.69" stroke="#3a3a3a" stroke-width="0.6"/>
<line x1="494.00" y1="416.40" x2="678.40" y2="416.40" stroke="#3a3a3a" stroke-width="0.6"/>
<line x1="494.00" y1="362.40" x2="494.00" y2="416.40" stroke="#3a3a3a" stroke-width="0.6"/>
<line x1="516.00" y1="362.40" x2="516.00" y2="416.40" stroke="#3a3a3a" stroke-width="0.6"/>
<line x1="538.00" y1="362.40" x2="538.00" y2="416.40" stroke="#3a3a3a" stroke-width="0.6"/>
<line x1="560.00" y1="362.40" x2="560.00" y2="416.40" stroke="#3a3a3a" stroke-width="0.6"/>
<line x1="630.40" y1="362.40" x2="630.40" y2="416.40" stroke="#3a3a3a" stroke-width="0.6"/>
<line x1="678.40" y1="362.40" x2="678.40" y2="416.40" stroke="#3a3a3a" stroke-width="0.6"/>
<rect x="494.00" y="431.70" width="22.00" height="7.85" fill="#4a78b8"/>
<text x="595.20" y="438.16" font-size="6.1" fill="#606060" text-anchor="middle">BMK_Unigene_071793</text>
<text x="654.40" y="438.16" font-size="6.1" fill="#3a3a3a" text-anchor="middle">MYC/MYB</text>
<rect x="494.00" y="439.55" width="22.00" height="7.85" fill="#94b0dc"/>
<text x="595.20" y="446.01" font-size="6.1" fill="#606060" text-anchor="middle">BMK_Unigene_100062</text>
<text x="654.40" y="446.01" font-size="6.1" fill="#3a3a3a" text-anchor="middle">MYC/MYB</text>
<line x1="494.00" y1="431.70" x2="678.40" y2="431.70" stroke="#3a3a3a" stroke-width="0.6"/>
<line x1="494.00" y1="439.55" x2="678.40" y2="439.55" stroke="#3a3a3a" stroke-width="0.6"/>
<line x1="494.00" y1="447.40" x2="678.40" y2="447.40" stroke="#3a3a3a" stroke-width="0.6"/>
<line x1="494.00" y1="431.70" x2="494.00" y2="447.40" stroke="#3a3a3a" stroke-width="0.6"/>
<line x1="516.00" y1="431.70" x2="516.00" y2="447.40" stroke="#3a3a3a" stroke-width="0.6"/>
<line x1="538.00" y1="431.70" x2="538.00" y2="447.40" stroke="#3a3a3a" stroke-width="0.6"/>
<line x1="560.00" y1="431.70" x2="560.00" y2="447.40" stroke="#3a3a3a" stroke-width="0.6"/>
<line x1="630.40" y1="431.70" x2="630.40" y2="447.40" stroke="#3a3a3a" stroke-width="0.6"/>
<line x1="678.40" y1="431.70" x2="678.40" y2="447.40" stroke="#3a3a3a" stroke-width="0.6"/>
<text x="595.20" y="469.16" font-size="6.1" fill="#606060" text-anchor="middle">BMK_Unigene_000854</text>
<text x="654.40" y="469.16" font-size="6.1" fill="#3a3a3a" text-anchor="middle">PPOF</text>
<rect x="516.00" y="470.46" width="22.00" height="7.66" fill="#f45a5a"/>
<rect x="538.00" y="470.46" width="22.00" height="7.66" fill="#f45a5a"/>
<text x="595.20" y="476.82" font-size="6.1" fill="#606060" text-anchor="middle">BMK_Unigene_040963</text>
<text x="654.40" y="476.82" font-size="6.1" fill="#3a3a3a" text-anchor="middle">PPOB</text>
<rect x="516.00" y="478.12" width="22.00" height="7.66" fill="#f00a0a"/>
<rect x="538.00" y="478.12" width="22.00" height="7.66" fill="#f24c4c"/>
<text x="595.20" y="484.48" font-size="6.1" fill="#606060" text-anchor="middle">BMK_Unigene_040964</text>
<text x="654.40" y="484.48" font-size="6.1" fill="#3a3a3a" text-anchor="middle">PPOB</text>
<text x="595.20" y="492.14" font-size="6.1" fill="#606060" text-anchor="middle">BMK_Unigene_000881</text>
<text x="654.40" y="492.14" font-size="6.1" fill="#3a3a3a" text-anchor="middle">PPOB</text>
<text x="595.20" y="499.80" font-size="6.1" fill="#606060" text-anchor="middle">BMK_Unigene_101099</text>
<text x="654.40" y="499.80" font-size="6.1" fill="#3a3a3a" text-anchor="middle">TD1</text>
<text x="595.20" y="507.46" font-size="6.1" fill="#606060" text-anchor="middle">BMK_Unigene_013130</text>
<text x="654.40" y="507.46" font-size="6.1" fill="#3a3a3a" text-anchor="middle">LapA1</text>
<text x="595.20" y="515.12" font-size="6.1" fill="#606060" text-anchor="middle">BMK_Unigene_108528</text>
<text x="654.40" y="515.12" font-size="6.1" fill="#3a3a3a" text-anchor="middle">LapA2</text>
<text x="595.20" y="522.78" font-size="6.1" fill="#606060" text-anchor="middle">BMK_Unigene_104179</text>
<text x="654.40" y="522.78" font-size="6.1" fill="#3a3a3a" text-anchor="middle">LapA2</text>
<text x="595.20" y="530.44" font-size="6.1" fill="#606060" text-anchor="middle">BMK_Unigene_079270</text>
<text x="654.40" y="530.44" font-size="6.1" fill="#3a3a3a" text-anchor="middle">LapA2</text>
<rect x="494.00" y="531.74" width="22.00" height="7.66" fill="#94b0dc"/>
<text x="595.20" y="538.11" font-size="6.1" fill="#606060" text-anchor="middle">BMK_Unigene_112177</text>
<text x="654.40" y="538.11" font-size="6.1" fill="#3a3a3a" text-anchor="middle">LeARG1</text>
<line x1="494.00" y1="462.80" x2="678.40" y2="462.80" stroke="#3a3a3a" stroke-width="0.6"/>
<line x1="494.00" y1="470.46" x2="678.40" y2="470.46" stroke="#3a3a3a" stroke-width="0.6"/>
<line x1="494.00" y1="478.12" x2="678.40" y2="478.12" stroke="#3a3a3a" stroke-width="0.6"/>
<line x1="494.00" y1="485.78" x2="678.40" y2="485.78" stroke="#3a3a3a" stroke-width="0.6"/>
<line x1="494.00" y1="493.44" x2="678.40" y2="493.44" stroke="#3a3a3a" stroke-width="0.6"/>
<line x1="494.00" y1="501.10" x2="678.40" y2="501.10" stroke="#3a3a3a" stroke-width="0.6"/>
<line x1="494.00" y1="508.76" x2="678.40" y2="508.76" stroke="#3a3a3a" stroke-width="0.6"/>
<line x1="494.00" y1="516.42" x2="678.40" y2="516.42" stroke="#3a3a3a" stroke-width="0.6"/>
<line x1="494.00" y1="524.08" x2="678.40" y2="524.08" stroke="#3a3a3a" stroke-width="0.6"/>
<line x1="494.00" y1="531.74" x2="678.40" y2="531.74" stroke="#3a3a3a" stroke-width="0.6"/>
<line x1="494.00" y1="539.40" x2="678.40" y2="539.40" stroke="#3a3a3a" stroke-width="0.6"/>
<line x1="494.00" y1="462.80" x2="494.00" y2="539.40" stroke="#3a3a3a" stroke-width="0.6"/>
<line x1="516.00" y1="462.80" x2="516.00" y2="539.40" stroke="#3a3a3a" stroke-width="0.6"/>
<line x1="538.00" y1="462.80" x2="538.00" y2="539.40" stroke="#3a3a3a" stroke-width="0.6"/>
<line x1="560.00" y1="462.80" x2="560.00" y2="539.40" stroke="#3a3a3a" stroke-width="0.6"/>
<line x1="630.40" y1="462.80" x2="630.40" y2="539.40" stroke="#3a3a3a" stroke-width="0.6"/>
<line x1="678.40" y1="462.80" x2="678.40" y2="539.40" stroke="#3a3a3a" stroke-width="0.6"/>
<text x="383.40" y="42.20" font-size="8.7" fill="#505050" stroke="#505050" stroke-width="0.35" text-anchor="start">Membrane lipids</text>
<line x1="413.70" y1="47.50" x2="413.70" y2="56.30" stroke="#222" stroke-width="1.3"/>
<path d="M411.80,55.80 L415.60,55.80 L413.70,60.00 Z" fill="#222"/>
<text x="440.00" y="54.20" font-size="8.7" font-weight="bold" fill="#1a1a1a" stroke="#1a1a1a" stroke-width="0.35" text-anchor="start">desaturase</text>
<text x="370.00" y="75.20" font-size="8.8" fill="#505050" stroke="#505050" stroke-width="0.35" text-anchor="start">16:3 and 18:3 fatty acids</text>
<line x1="414.00" y1="83.20" x2="414.00" y2="121.10" stroke="#222" stroke-width="1.3"/>
<path d="M412.10,120.60 L415.90,120.60 L414.00,124.80 Z" fill="#222"/>
<text x="440.00" y="103.70" font-size="8.7" font-weight="bold" fill="#1a1a1a" stroke="#1a1a1a" stroke-width="0.35" text-anchor="start">lipase</text>
<text x="388.50" y="135.50" font-size="8.7" fill="#505050" stroke="#505050" stroke-width="0.35" text-anchor="start">Linolenic acid</text>
<line x1="413.80" y1="140.60" x2="413.80" y2="164.60" stroke="#222" stroke-width="1.3"/>
<path d="M411.90,164.10 L415.70,164.10 L413.80,168.30 Z" fill="#222"/>
<text x="440.00" y="158.40" font-size="8.7" font-weight="bold" fill="#1a1a1a" stroke="#1a1a1a" stroke-width="0.35" text-anchor="start">lipoxygenase</text>
<text x="396.10" y="181.80" font-size="8.8" fill="#505050" stroke="#505050" stroke-width="0.35" text-anchor="start">13-HPOT</text>
<line x1="413.40" y1="184.20" x2="413.40" y2="190.70" stroke="#222" stroke-width="1.3"/>
<path d="M411.50,190.20 L415.30,190.20 L413.40,194.40 Z" fill="#222"/>
<text x="439.00" y="193.50" font-size="8.7" font-weight="bold" fill="#1a1a1a" stroke="#1a1a1a" stroke-width="0.35" text-anchor="start">AOS</text>
<text x="394.10" y="204.10" font-size="8.9" fill="#505050" stroke="#505050" stroke-width="0.35" text-anchor="start">12,13-EOT</text>
<line x1="413.40" y1="206.50" x2="413.40" y2="212.90" stroke="#222" stroke-width="1.3"/>
<path d="M411.50,212.40 L415.30,212.40 L413.40,216.60 Z" fill="#222"/>
<text x="439.70" y="216.80" font-size="8.7" font-weight="bold" fill="#1a1a1a" stroke="#1a1a1a" stroke-width="0.35" text-anchor="start">AOC</text>
<text x="400.60" y="225.90" font-size="8.7" fill="#505050" stroke="#505050" stroke-width="0.35" text-anchor="start">OPDA</text>
<line x1="413.00" y1="228.80" x2="413.00" y2="234.20" stroke="#222" stroke-width="1.3"/>
<path d="M411.10,233.70 L414.90,233.70 L413.00,237.90 Z" fill="#222"/>
<text x="439.70" y="240.10" font-size="8.7" font-weight="bold" fill="#1a1a1a" stroke="#1a1a1a" stroke-width="0.35" text-anchor="start">OPR</text>
<text x="398.60" y="249.20" font-size="8.7" fill="#505050" stroke="#505050" stroke-width="0.35" text-anchor="start">OPC8:0</text>
<line x1="413.00" y1="254.00" x2="413.00" y2="261.50" stroke="#222" stroke-width="1.3"/>
<path d="M411.10,261.00 L414.90,261.00 L413.00,265.20 Z" fill="#222"/>
<text x="439.00" y="263.40" font-size="8.7" font-weight="bold" fill="#1a1a1a" stroke="#1a1a1a" stroke-width="0.35" text-anchor="start">ACX</text>
<text x="408.20" y="272.50" font-size="8.7" fill="#505050" stroke="#505050" stroke-width="0.35" text-anchor="start">JA</text>
<text x="438.70" y="285.40" font-size="8.7" font-weight="bold" fill="#1a1a1a" stroke="#1a1a1a" stroke-width="0.35" text-anchor="start">JMT</text>
<line x1="412.70" y1="274.50" x2="412.70" y2="309.80" stroke="#444" stroke-width="1.3"/>
<path d="M410.80,309.30 L414.60,309.30 L412.70,313.50 Z" fill="#444"/>
<polyline points="420.1,277.7 439.7,293.5 513.5,293.5" fill="none" stroke="#222" stroke-width="1.4"/>
<path d="M513.2,291.5 L513.2,295.5 L517.8,293.5 Z" fill="#222"/>
<text x="523.30" y="296.00" font-size="8.7" fill="#505050" stroke="#505050" stroke-width="0.35" text-anchor="start">MeJA</text>
<text x="438.70" y="310.70" font-size="8.7" font-weight="bold" fill="#1a1a1a" stroke="#1a1a1a" stroke-width="0.35" text-anchor="start">JAR1</text>
<text x="401.30" y="325.90" font-size="8.7" fill="#505050" stroke="#505050" stroke-width="0.35" text-anchor="start">JA-Ile</text>
<line x1="412.40" y1="327.70" x2="412.40" y2="333.10" stroke="#222" stroke-width="1.3"/>
<path d="M410.50,332.60 L414.30,332.60 L412.40,336.80 Z" fill="#222"/>
<text x="395.20" y="345.70" font-size="8.7" font-weight="bold" fill="#1a1a1a" stroke="#1a1a1a" stroke-width="0.35" text-anchor="start">SCF/COI1</text>
<line x1="412.20" y1="350.50" x2="412.20" y2="380.90" stroke="#222" stroke-width="1.25"/>
<line x1="407.60" y1="380.90" x2="417.40" y2="380.90" stroke="#222" stroke-width="1.25"/>
<text x="404.00" y="390.90" font-size="8.7" font-weight="bold" fill="#1a1a1a" stroke="#1a1a1a" stroke-width="0.35" text-anchor="start">JAZ</text>
<line x1="412.20" y1="396.10" x2="412.20" y2="427.60" stroke="#222" stroke-width="1.25"/>
<line x1="406.40" y1="427.60" x2="418.10" y2="427.60" stroke="#222" stroke-width="1.25"/>
<text x="401.50" y="440.60" font-size="8.7" font-weight="bold" fill="#1a1a1a" stroke="#1a1a1a" stroke-width="0.35" text-anchor="start">MYC</text>
<line x1="412.00" y1="442.80" x2="412.00" y2="445.60" stroke="#222" stroke-width="1.3"/>
<path d="M410.10,445.10 L413.90,445.10 L412.00,449.30 Z" fill="#222"/>
<text x="398.20" y="457.50" font-size="8.7" font-weight="bold" fill="#1a1a1a" stroke="#1a1a1a" stroke-width="0.35" text-anchor="start">Transcriptional cascade</text>
<line x1="411.80" y1="460.30" x2="411.80" y2="491.20" stroke="#222" stroke-width="1.3"/>
<path d="M409.90,490.70 L413.70,490.70 L411.80,494.90 Z" fill="#222"/>
<text x="397.20" y="506.90" font-size="8.7" font-weight="bold" fill="#1a1a1a" stroke="#1a1a1a" stroke-width="0.35" text-anchor="start">JA response markers</text>
<text transform="translate(370.3,154.3) rotate(-90)" font-size="10.6" fill="#333" stroke="#333" stroke-width="0.35">Chloroplast</text>
<text transform="translate(371.1,270.3) rotate(-90)" font-size="10.8" fill="#333" stroke="#333" stroke-width="0.35">Peroxi</text>
<text transform="translate(384.9,267.2) rotate(-90)" font-size="10.6" fill="#333" stroke="#333" stroke-width="0.35">some</text>
<text x="624.50" y="559.60" font-size="12" fill="#333" stroke="#333" stroke-width="0.35" text-anchor="start">log2 (FC)</text>
<rect x="616.70" y="564.20" width="6.24" height="9.70" fill="#10509c"/>
<rect x="622.64" y="564.20" width="6.24" height="9.70" fill="#3a6cb4"/>
<rect x="628.58" y="564.20" width="6.24" height="9.70" fill="#5a84c4"/>
<rect x="634.52" y="564.20" width="6.24" height="9.70" fill="#7c9cd0"/>
<rect x="640.46" y="564.20" width="6.24" height="9.70" fill="#a8c0e8"/>
<rect x="646.40" y="564.20" width="6.60" height="9.70" fill="#f89898"/>
<rect x="652.70" y="564.20" width="6.60" height="9.70" fill="#f88a8a"/>
<rect x="659.00" y="564.20" width="6.60" height="9.70" fill="#f45a5a"/>
<rect x="665.30" y="564.20" width="6.60" height="9.70" fill="#f43030"/>
<rect x="671.60" y="564.20" width="6.60" height="9.70" fill="#f20202"/>
<text x="615.60" y="585.70" font-size="12" fill="#333" stroke="#333" stroke-width="0.35" text-anchor="start"><tspan font-size="9.5">−</tspan><tspan dx="0.8">4</tspan></text>
<text x="646.40" y="585.70" font-size="12" fill="#333" stroke="#333" stroke-width="0.35" text-anchor="start">0</text>
<text x="673.10" y="585.70" font-size="12" fill="#333" stroke="#333" stroke-width="0.35" text-anchor="start">4</text>
</svg>
</body></html>
